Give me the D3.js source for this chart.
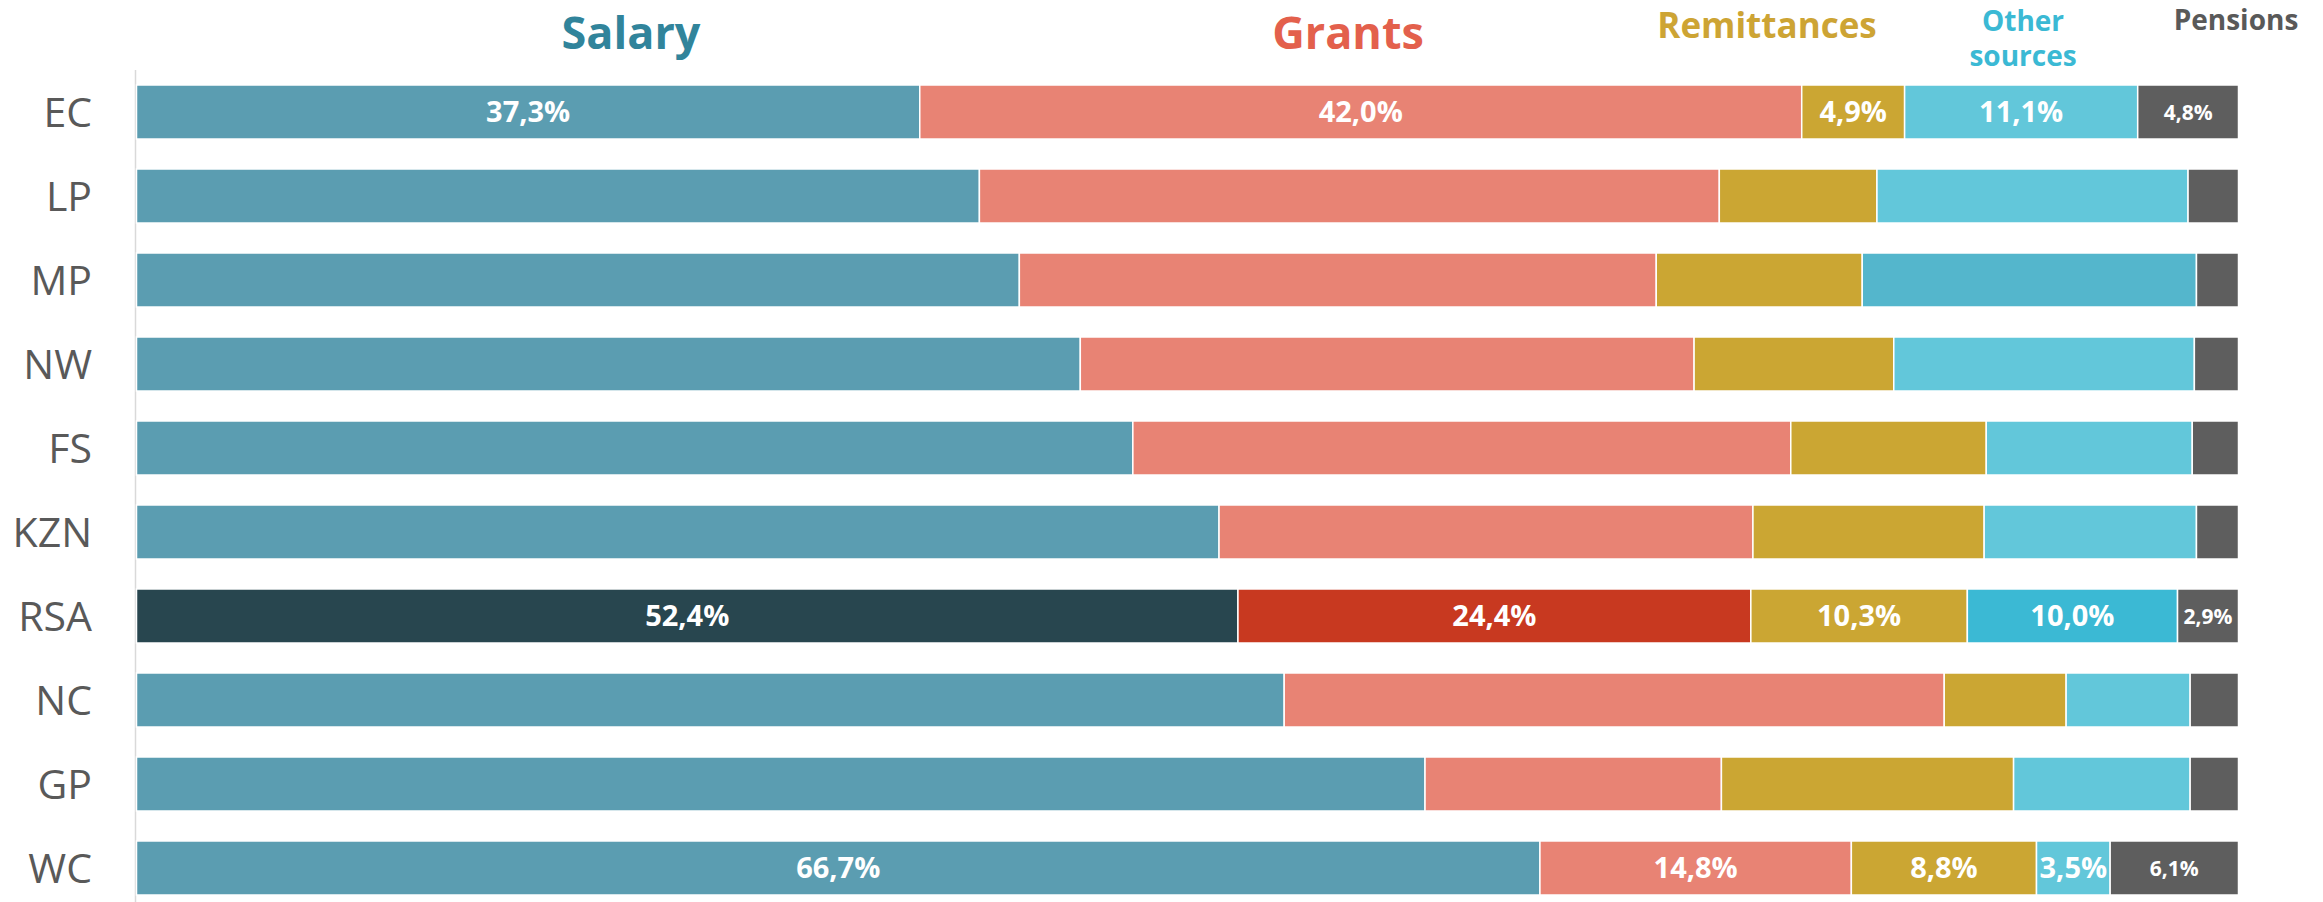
<!DOCTYPE html>
<html>
<head>
<meta charset="utf-8">
<script src="https://cdn.jsdelivr.net/npm/d3@7"></script>
<style>
  html, body { margin: 0; padding: 0; background: #fff; }
  svg { display: block; }
</style>
</head>
<body>
<svg id="chart" width="2323" height="902"></svg>
<script>
// Household income sources by province (share of total, %)
const provinces = ["EC", "LP", "MP", "NW", "FS", "KZN", "RSA", "NC", "GP", "WC"];
const sources = ["Salary", "Grants", "Remittances", "Other sources", "Pensions"];

const salary      = [37.3, 40.1, 42.0, 44.9, 47.4, 51.5, 52.4, 54.6, 61.3, 66.7];
const grants      = [42.0, 35.2, 30.3, 29.2, 31.3, 25.4, 24.4, 31.4, 14.1, 14.8];
const remittances = [ 4.9,  7.5,  9.8,  9.5,  9.3, 11.0, 10.3,  5.8, 13.9,  8.8];
const otherSrc    = [11.1, 14.8, 15.9, 14.3,  9.8, 10.1, 10.0,  5.9,  8.4,  3.5];
const pensions    = [ 4.8,  2.4,  2.0,  2.1,  2.2,  2.0,  2.9,  2.3,  2.3,  6.1];

// Rows whose segments carry value labels
const labelledRows = ["EC", "RSA", "WC"];

const seriesValues = [salary, grants, remittances, otherSrc, pensions];

const baseColors = ["#5B9DB1", "#E88374", "#CBA633", "#62C7DA", "#5E5E5E"];
const nationalColors = ["#28464F", "#C83920", "#CBA633", "#3BB9D4", "#5E5E5E"];
const titleColors = ["#31849B", "#E3604C", "#CDA434", "#3BB9D4", "#595959"];

const svg = d3.select("#chart");
const font = "'Open Sans', 'Noto Sans', sans-serif";

// Build rows normalised to 100%
const rows = provinces.map((p, i) => {
  const row = { province: p };
  sources.forEach((s, k) => { row[s] = seriesValues[k][i]; });
  row.total = d3.sum(sources, s => row[s]);
  return row;
});

const x = d3.scaleLinear().domain([0, 100]).range([136.5, 2238.5]);
const y = d3.scaleBand().domain(provinces).range([70, 910])
  .paddingInner(0.357).paddingOuter(0.1786);

const stack = d3.stack().keys(sources)
  .value((d, key) => d[key] / d.total * 100);
const layers = stack(rows);

function colorFor(k, province) {
  if (province === "RSA") return nationalColors[k];
  if (province === "MP" && k === 3) return "#54B6CC";
  return baseColors[k];
}

// Axis line on the left
svg.append("line")
  .attr("x1", 135.5).attr("x2", 135.5)
  .attr("y1", 70).attr("y2", 902)
  .attr("stroke", "#d9d9d9").attr("stroke-width", 1.5);

// Category labels
const yAxis = d3.axisLeft(y).tickSize(0).tickPadding(0);
const gy = svg.append("g").attr("transform", "translate(92,0)").call(yAxis);
gy.select(".domain").remove();
gy.selectAll("text")
  .attr("font-family", font)
  .attr("font-size", 41)
  .attr("fill", "#595959")
  .attr("dy", "0.36em");

// Bars
const layerG = svg.append("g").selectAll("g").data(layers).join("g");
layerG.selectAll("rect")
  .data((layer, k) => layer.map(d => ({ d, k })))
  .join("rect")
  .attr("x", o => x(o.d[0]))
  .attr("y", o => y(o.d.data.province))
  .attr("width", o => x(o.d[1]) - x(o.d[0]))
  .attr("height", y.bandwidth())
  .attr("fill", o => colorFor(o.k, o.d.data.province))
  .attr("stroke", "#fff")
  .attr("stroke-width", 1.5);

// Value labels
const fmt = v => v.toFixed(1).replace(".", ",") + "%";
layerG.selectAll("text.val")
  .data((layer, k) => layer.filter(d => labelledRows.includes(d.data.province)).map(d => ({ d, k })))
  .join("text")
  .attr("class", "val")
  .attr("x", o => (x(o.d[0]) + x(o.d[1])) / 2)
  .attr("y", o => y(o.d.data.province) + y.bandwidth() / 2)
  .attr("dy", "0.36em")
  .attr("text-anchor", "middle")
  .attr("font-family", font)
  .attr("font-weight", 700)
  .attr("font-size", o => o.k === 4 ? 21 : 29)
  .attr("fill", "#fff")
  .text(o => fmt(o.d.data[sources[o.k]]));

// Series headings
const headings = [
  { lines: ["Salary"], x: 631, y: 49, size: 45 },
  { lines: ["Grants"], x: 1348, y: 49, size: 45 },
  { lines: ["Remittances"], x: 1767, y: 38, size: 35 },
  { lines: ["Other", "sources"], x: 2023, y: 31, size: 28, lh: 35 },
  { lines: ["Pensions"], x: 2236, y: 30, size: 28 }
];
headings.forEach((h, k) => {
  const t = svg.append("text")
    .attr("text-anchor", "middle")
    .attr("font-family", font)
    .attr("font-weight", 700)
    .attr("font-size", h.size)
    .attr("fill", titleColors[k]);
  h.lines.forEach((ln, j) => {
    t.append("tspan").attr("x", h.x).attr("y", h.y + j * (h.lh || 0)).text(ln);
  });
});
</script>
</body>
</html>
